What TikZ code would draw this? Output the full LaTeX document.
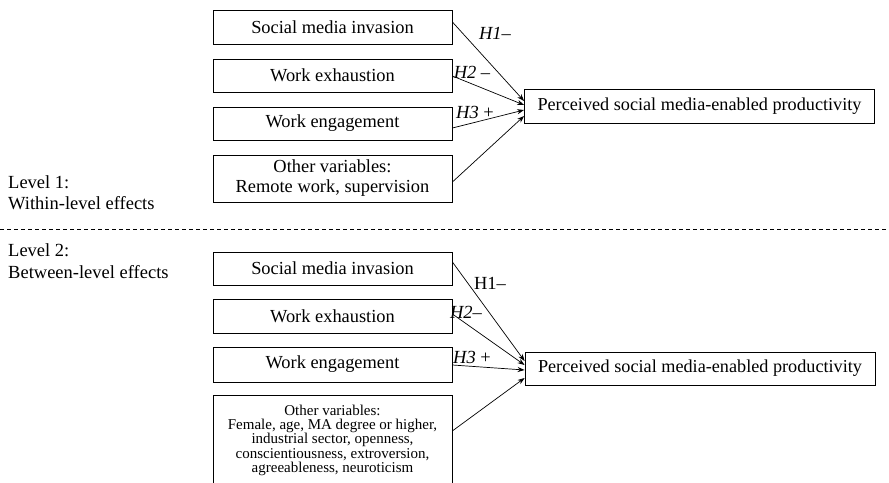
\documentclass[tikz,border=0pt]{standalone}
\usepackage{fontspec}
\setmainfont{Liberation Serif}
\usetikzlibrary{arrows.meta}
\tikzset{
  box/.style={draw, line width=0.8pt, minimum width=239pt, inner sep=2pt, font=\fontsize{18.4}{20}\selectfont, align=center},
  target/.style={draw, line width=0.8pt, minimum width=350pt, minimum height=34pt, inner sep=2pt, font=\fontsize{18.2}{20}\selectfont},
  lbl/.style={font=\fontsize{18.5}{20}\selectfont, inner sep=0pt},
  lvl/.style={font=\fontsize{18.5}{21.5}\selectfont, align=left, anchor=west, inner sep=0pt},
  conn/.style={line width=0.7pt, -{Stealth[length=7pt,width=5pt]}},
}
\begin{document}
\begin{tikzpicture}[x=1pt,y=-1pt]
\clip (0,0) rectangle (889,482);
\fill[white] (0,0) rectangle (889,482);
% top section
\node[box, minimum height=34pt] (a1) at (332.5,27) {Social media invasion};
\node[box, minimum height=33pt] (a2) at (332.5,75.5) {Work exhaustion};
\node[box, minimum height=33pt] (a3) at (332.5,123.5) {Work engagement};
\node[box, minimum height=47pt] (a4) at (332.5,178.5) {Other variables:\\Remote work, supervision};
\node[target] (ta) at (699.5,106) {Perceived social media-enabled productivity};
\draw[conn] ([yshift=5pt]a1.east) -- ([yshift=5pt]ta.west);
\draw[conn] ([yshift=-0.5pt]a2.east) -- ([yshift=1pt]ta.west);
\draw[conn] ([yshift=-4.5pt]a3.east) -- ([yshift=-4pt]ta.west);
\draw[conn] ([yshift=-3.5pt]a4.east) -- ([yshift=-10pt]ta.west);
\node[lbl] (la1) at (495,33) {\textit{H1}–};
\node[lbl] (la2) at (472,72) {\textit{H2} –};
\node[lbl] (la3) at (475,112) {\textit{H3} +};
% level labels
\node[lvl] (lev1) at (8,192.5) {Level 1:\\Within-level effects};
\node[lvl] (lev2) at (8,261) {Level 2:\\Between-level effects};
\coordinate (dl) at (0,229);
\coordinate (dr) at (889,229);
\draw[line width=0.7pt, dash pattern=on 4pt off 3pt] (dl) -- (dr);
% bottom section
\node[box, minimum height=33pt] (b1) at (332.5,268.5) {Social media invasion};
\node[box, minimum height=34pt] (b2) at (332.5,316) {Work exhaustion};
\node[box, minimum height=35pt] (b3) at (332.5,364.5) {Work engagement};
\node[box, minimum height=90pt, anchor=north, font=\fontsize{15}{14.3}\selectfont] (b4) at (332.5,395) {Other variables:\\Female, age, MA degree or higher,\\industrial sector, openness,\\conscientiousness, extroversion,\\agreeableness, neuroticism};
\node[target, minimum height=33pt] (tb) at (700,368.5) {Perceived social media-enabled productivity};
\draw[conn] ([yshift=6.5pt]b1.east) -- ([yshift=7.5pt]tb.west);
\draw[conn] ([yshift=2pt]b2.east) -- ([yshift=3.5pt]tb.west);
\draw[conn] ([yshift=-0.5pt]b3.east) -- ([yshift=-1.5pt]tb.west);
\draw[conn] ([yshift=9.5pt]b4.east) -- ([yshift=-9.5pt]tb.west);
\node[lbl] (lb1) at (490,283) {H1–};
\node[lbl] (lb2) at (466,312) {\textit{H2}–};
\node[lbl] (lb3) at (472,357) {\textit{H3} +};
\end{tikzpicture}
\end{document}
